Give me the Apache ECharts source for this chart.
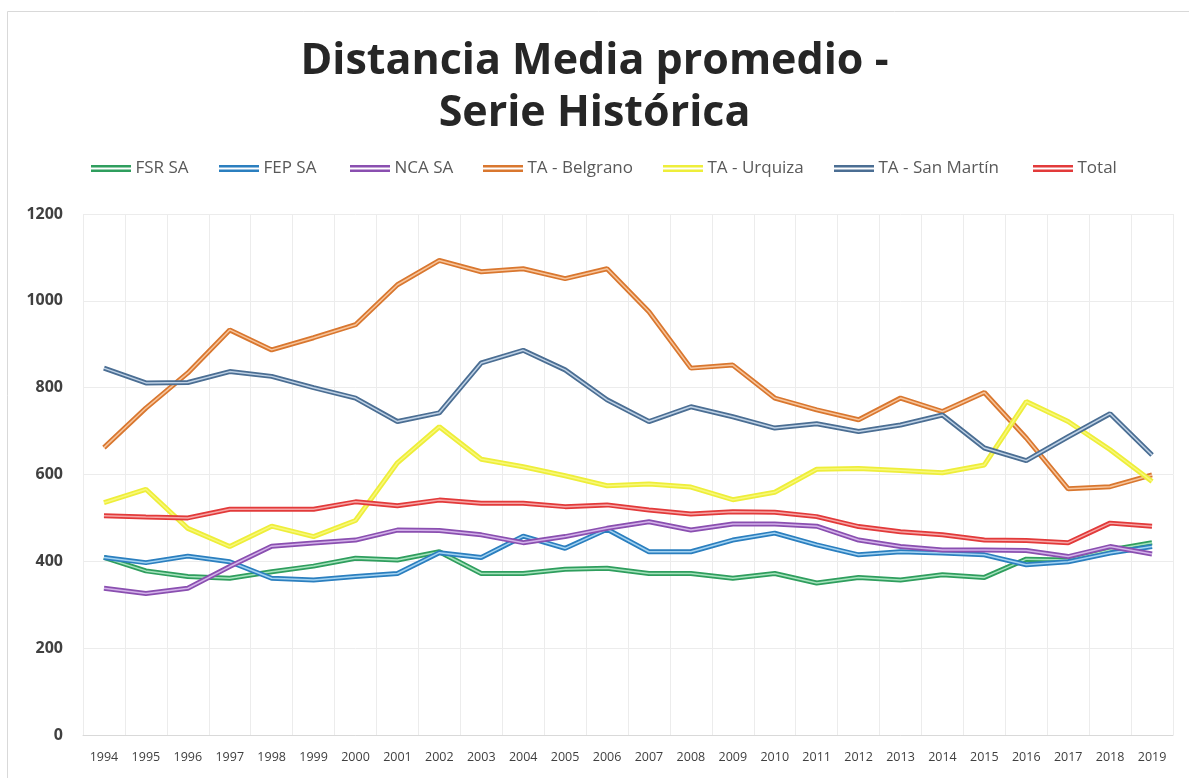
<!DOCTYPE html>
<html>
<head>
<meta charset="utf-8">
<script src="https://cdn.jsdelivr.net/npm/echarts@6/dist/echarts.min.js"></script>
<style>
  html, body { margin: 0; padding: 0; background: #fff; }
  #chart { width: 1189px; height: 778px; }
</style>
</head>
<body>
<div id="chart"></div>
<script>
// datos
const years = ['1994','1995','1996','1997','1998','1999','2000','2001','2002','2003','2004','2005','2006',
  '2007','2008','2009','2010','2011','2012','2013','2014','2015','2016','2017','2018','2019'];

const fsrSA = [409, 378, 365, 361, 376, 389, 407, 403, 422, 372, 372, 382, 384,
  372, 372, 361, 372, 350, 363, 357, 369, 363, 405, 403, 426, 443];
const fepSA = [409, 397, 412, 399, 361, 357, 365, 372, 420, 409, 458, 430, 474,
  422, 422, 449, 465, 438, 415, 422, 419, 415, 392, 399, 419, 434];
const ncaSA = [338, 326, 338, 388, 435, 442, 449, 472, 471, 461, 443, 457, 476,
  491, 472, 486, 486, 481, 449, 434, 426, 426, 425, 411, 434, 417];
const taBelgrano = [662, 753, 834, 933, 887, 915, 945, 1037, 1093, 1067, 1074, 1051, 1074,
  975, 845, 852, 776, 749, 726, 776, 745, 789, 684, 567, 572, 599];
const taUrquiza = [535, 566, 476, 434, 481, 457, 494, 627, 710, 635, 618, 597, 574,
  578, 571, 542, 559, 612, 614, 609, 604, 622, 768, 722, 657, 584];
const taSanMartin = [845, 811, 812, 837, 826, 800, 776, 722, 742, 857, 886, 841, 772,
  722, 756, 733, 707, 717, 699, 714, 737, 661, 632, 687, 740, 645];
const total = [505, 502, 500, 520, 520, 520, 537, 528, 541, 534, 534, 526, 530,
  518, 509, 514, 513, 503, 480, 468, 461, 449, 448, 443, 488, 481];

const yTicks = [0, 200, 400, 600, 800, 1000, 1200];

const seriesDefs = [
  { name: 'FSR SA', data: fsrSA, color: '#2f9e5e', inner: '#a6e3bd' },
  { name: 'FEP SA', data: fepSA, color: '#2b7fbf', inner: '#a3d3f2' },
  { name: 'NCA SA', data: ncaSA, color: '#8a4fb0', inner: '#d4b3ea' },
  { name: 'TA - Belgrano', data: taBelgrano, color: '#d9772f', inner: '#f7c59c' },
  { name: 'TA - Urquiza', data: taUrquiza, color: '#eeee3a', inner: '#f8f87a' },
  { name: 'TA - San Martín', data: taSanMartin, color: '#4b6e93', inner: '#bfd2e6' },
  { name: 'Total', data: total, color: '#e23a3a', inner: '#f6a7a7' }
];

// posición de cada entrada de la leyenda (como en el original de Excel)
const legendLeft = [91, 219, 350, 483, 663, 834, 1033];

const myChart = echarts.init(document.getElementById('chart'));

let series = [];
seriesDefs.forEach(function (s) {
  // línea doble: trazo grueso de color + trazo fino claro encima
  series.push({
    name: s.name, type: 'line', data: s.data, symbol: 'none',
    color: s.color,
    lineStyle: { width: 5, color: s.color },
    emphasis: { disabled: true }
  });
  series.push({
    name: s.name, type: 'line', data: s.data, symbol: 'none', silent: true,
    color: s.color,
    lineStyle: { width: 1.5, color: s.inner },
    emphasis: { disabled: true }
  });
});

const legends = seriesDefs.map(function (s, i) {
  return {
    data: [s.name],
    left: legendLeft[i],
    top: 160,
    padding: 0,
    itemWidth: 43,
    itemHeight: 7,
    icon: 'path://M0,0H40V2.5H0Z M0,4.5H40V7H0Z',
    selectedMode: false,
    textStyle: { color: '#595959', fontSize: 17, fontFamily: 'Open Sans', padding: [0, 0, 0, -2] }
  };
});

let option = {
  backgroundColor: '#fff',
  animation: false,
  title: {
    text: 'Distancia Media promedio -\nSerie Histórica',
    left: 'center',
    top: 31,
    textStyle: {
      fontFamily: 'Open Sans', fontWeight: 'bold', fontSize: 43,
      color: '#262626', lineHeight: 52
    }
  },
  legend: legends,
  graphic: [{
    type: 'rect', silent: true,
    shape: { x: 7.5, y: 11.5, width: 1300, height: 900 },
    style: { fill: 'none', stroke: '#d9d9d9', lineWidth: 1 }
  }],
  grid: { left: 83, right: 16, top: 214, bottom: 43 },
  xAxis: {
    type: 'category',
    data: years,
    boundaryGap: true,
    axisLine: { lineStyle: { color: '#d9d9d9', width: 1 } },
    axisTick: { show: false },
    axisLabel: { color: '#404040', fontSize: 12.5, fontFamily: 'Open Sans', margin: 16, interval: 0 },
    splitLine: { show: true, lineStyle: { color: '#ececec' } }
  },
  yAxis: {
    type: 'value',
    min: yTicks[0],
    max: yTicks[yTicks.length - 1],
    interval: 200,
    axisLine: { show: false },
    axisTick: { show: false },
    axisLabel: {
      color: '#404040', fontSize: 16, fontWeight: 'bold', fontFamily: 'Open Sans', margin: 20,
      formatter: function (v) { return String(v); }
    },
    splitLine: { lineStyle: { color: '#ececec' } }
  },
  series: series
};

myChart.setOption(option);
</script>
</body>
</html>
